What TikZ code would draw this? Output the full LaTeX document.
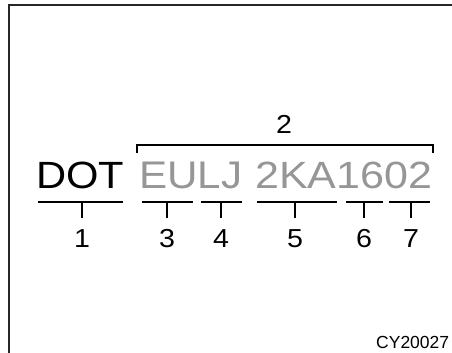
\documentclass[tikz,border=0pt]{standalone}
\usepackage{fontspec}
\setmainfont{Liberation Sans}
\usepackage{graphicx}
\definecolor{codegray}{RGB}{150,150,150}
\begin{document}
\begin{tikzpicture}[x=1pt,y=-1pt,
  frame/.style={line width=1.8pt,black!85},
  rule/.style={line width=2.3pt,black},
  big/.style={anchor=base west,inner sep=0pt},
  lab/.style={anchor=base,inner xsep=0pt,inner ysep=11pt,font=\fontsize{26}{26}\selectfont},
  small/.style={anchor=base west,inner sep=0pt,font=\fontsize{17.5}{17.5}\selectfont}]
\useasboundingbox (0,0) rectangle (452,353);
\clip (0,0) rectangle (452,353);
\fill[white] (0,0) rectangle (452,353);
% frame
\draw[frame] (9,354) -- (9,5) -- (453,5);
% main code text
\node[big] (dot) at (36,188) {\resizebox{88pt}{26.5pt}{DOT}};
\node[big,text=codegray] (eulj) at (139,188) {\resizebox{103pt}{26.5pt}{EULJ}};
\node[big,text=codegray] (code) at (255,188) {\resizebox{177pt}{26.5pt}{2KA1602}};
% bracket for 2
\node[lab] (l2) at (284,133.5) {\scalebox{1.1}[1]{2}};
\coordinate (bl) at (137,153);
\coordinate (br) at (433,153);
\coordinate (bm) at (284,145);
\draw[rule] (bl) |- (bm) -| (br);
\draw[rule] (bm) -- (l2.south);
% labels below
\node[lab] (l1) at (82,247) {\scalebox{1.1}[1]{1}};
\node[lab] (l3) at (167,247) {\scalebox{1.1}[1]{3}};
\node[lab] (l4) at (221,247) {\scalebox{1.1}[1]{4}};
\node[lab] (l5) at (295,247) {\scalebox{1.1}[1]{5}};
\node[lab] (l6) at (364,247) {\scalebox{1.1}[1]{6}};
\node[lab] (l7) at (411,247) {\scalebox{1.1}[1]{7}};
% underlines
\coordinate (t1) at (82,202);
\coordinate (t3) at (167,202);
\coordinate (t4) at (221,202);
\coordinate (t5) at (295,202);
\coordinate (t6) at (364,202);
\coordinate (t7) at (411,202);
\draw[rule] (38,202) -- (123,202);
\draw[rule] (142,202) -- (193,202);
\draw[rule] (201,202) -- (242,202);
\draw[rule] (257,202) -- (337,202);
\draw[rule] (346,202) -- (383,202);
\draw[rule] (389,202) -- (430,202);
\foreach \i in {1,3,4,5,6,7} {\draw[rule] (t\i) -- (l\i.north);}
% figure code
\node[small] (cy) at (376,348) {CY20027};
\end{tikzpicture}
\end{document}
